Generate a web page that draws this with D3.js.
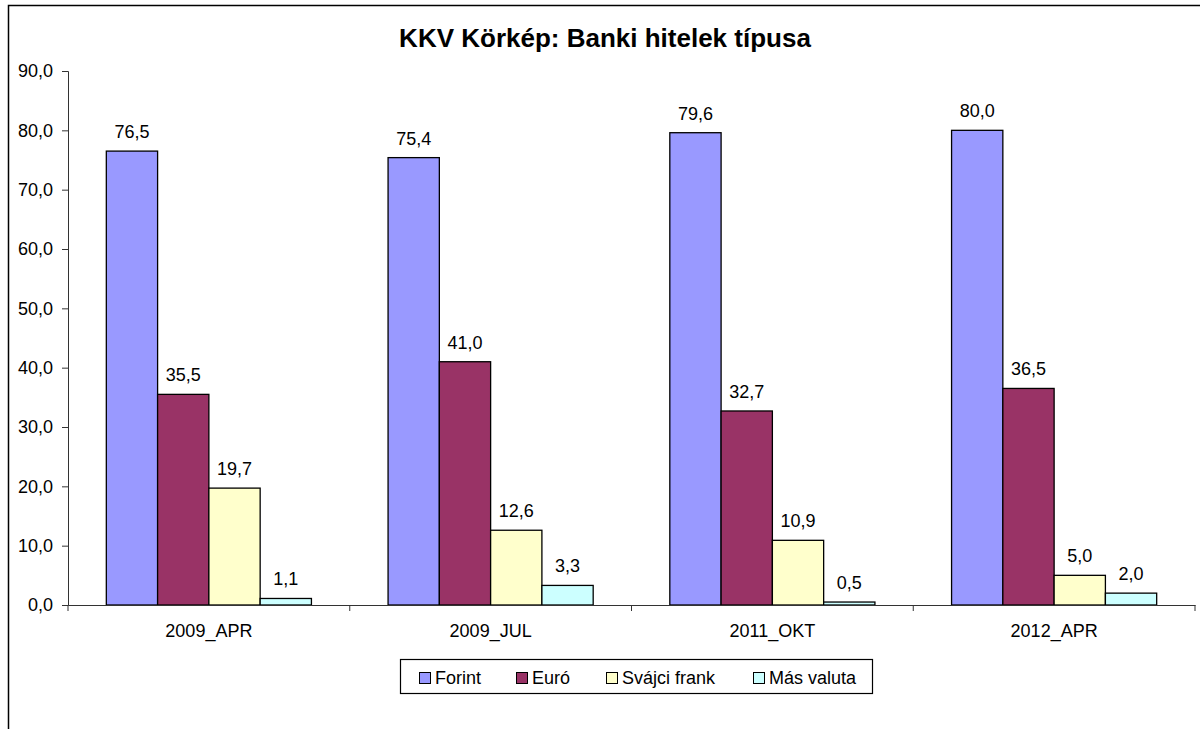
<!DOCTYPE html>
<html>
<head>
<meta charset="utf-8">
<script src="https://cdn.jsdelivr.net/npm/d3@7"></script>
<style>
  body { margin: 0; background: #fff; }
  text { font-family: "Liberation Sans", Arial, sans-serif; fill: #000; }
</style>
</head>
<body>
<svg id="chart" width="1200" height="729"></svg>
<script>
let categories = ["2009_APR", "2009_JUL", "2011_OKT", "2012_APR"];
let seriesNames = ["Forint", "Euró", "Svájci frank", "Más valuta"];
let forint = [76.5, 75.4, 79.6, 80.0];
let euro = [35.5, 41.0, 32.7, 36.5];
let svajci = [19.7, 12.6, 10.9, 5.0];
let mas = [1.1, 3.3, 0.5, 2.0];
let yTicks = [0, 10, 20, 30, 40, 50, 60, 70, 80, 90];
let colors = ["#9999ff", "#993366", "#ffffcc", "#ccffff"];

let series = [forint, euro, svajci, mas];
let svg = d3.select("#chart");
let huFormat = d3.formatLocale({decimal: ",", thousands: " ", grouping: [3], currency: ["", " Ft"]}).format(".1f");

// outer chart border
svg.append("rect")
  .attr("x", 8.5).attr("y", 5.5)
  .attr("width", 1196).attr("height", 740)
  .attr("fill", "none").attr("stroke", "#000").attr("stroke-width", 1.5);

svg.append("text")
  .attr("x", 605).attr("y", 47)
  .attr("text-anchor", "middle")
  .style("font-size", "26px").style("font-weight", "bold")
  .text("KKV Körkép: Banki hitelek típusa");

let margin = {left: 68, right: 1195, top: 71, bottom: 605};

let x0 = d3.scaleBand().domain(categories).range([margin.left, margin.right]).padding(0);
let bw = x0.bandwidth();
let x1 = d3.scaleBand().domain(seriesNames).range([bw * 0.136, bw * 0.864]).padding(0);
let y = d3.scaleLinear().domain([0, 90]).range([margin.bottom, margin.top]);

// y axis
let yAxis = svg.append("g")
  .attr("transform", "translate(" + margin.left + ",0)")
  .call(d3.axisLeft(y).tickValues(yTicks).tickSize(6).tickPadding(9).tickFormat(huFormat));
yAxis.select(".domain").attr("stroke", "#333");
yAxis.selectAll(".tick line").attr("stroke", "#333");
yAxis.selectAll("text").style("font-size", "18px");

// bars
let groups = svg.selectAll(".group")
  .data(categories)
  .enter()
  .append("g")
  .attr("class", "group")
  .attr("transform", d => "translate(" + x0(d) + ",0)");

groups.each(function(cat, ci){
  let g = d3.select(this);
  seriesNames.forEach(function(name, si){
    let v = series[si][ci];
    g.append("rect")
      .attr("x", x1(name))
      .attr("y", y(v))
      .attr("width", x1.bandwidth())
      .attr("height", y(0) - y(v))
      .attr("fill", colors[si])
      .attr("stroke", "#000")
      .attr("stroke-width", 1.3);
    g.append("text")
      .attr("x", x1(name) + x1.bandwidth() / 2)
      .attr("y", y(v) - 13)
      .attr("text-anchor", "middle")
      .style("font-size", "18px")
      .text(huFormat(v));
  });
});

// x axis
let xAxis = svg.append("g")
  .attr("transform", "translate(0," + margin.bottom + ")")
  .call(d3.axisBottom(x0).tickSize(0).tickPadding(19));
xAxis.select(".domain").attr("stroke", "#333");
xAxis.selectAll("text").style("font-size", "18px");
xAxis.selectAll(".sep")
  .data(d3.range(categories.length + 1))
  .enter()
  .append("line")
  .attr("class", "sep")
  .attr("x1", i => margin.left + i * bw).attr("x2", i => margin.left + i * bw)
  .attr("y1", 0).attr("y2", 6)
  .attr("stroke", "#333");

// legend
let legend = svg.append("g").attr("transform", "translate(400,659)");
legend.append("rect")
  .attr("x", 0.5).attr("y", 0.5)
  .attr("width", 472).attr("height", 34)
  .attr("fill", "#fff").attr("stroke", "#000").attr("stroke-width", 1.2);
let legendX = [19, 116, 206, 353];
seriesNames.forEach(function(name, i){
  legend.append("rect")
    .attr("x", legendX[i] + 0.5).attr("y", 13.5)
    .attr("width", 11).attr("height", 11)
    .attr("fill", colors[i]).attr("stroke", "#000").attr("stroke-width", 1);
  legend.append("text")
    .attr("x", legendX[i] + 16).attr("y", 24.5)
    .style("font-size", "18px")
    .text(name);
});
</script>
</body>
</html>
